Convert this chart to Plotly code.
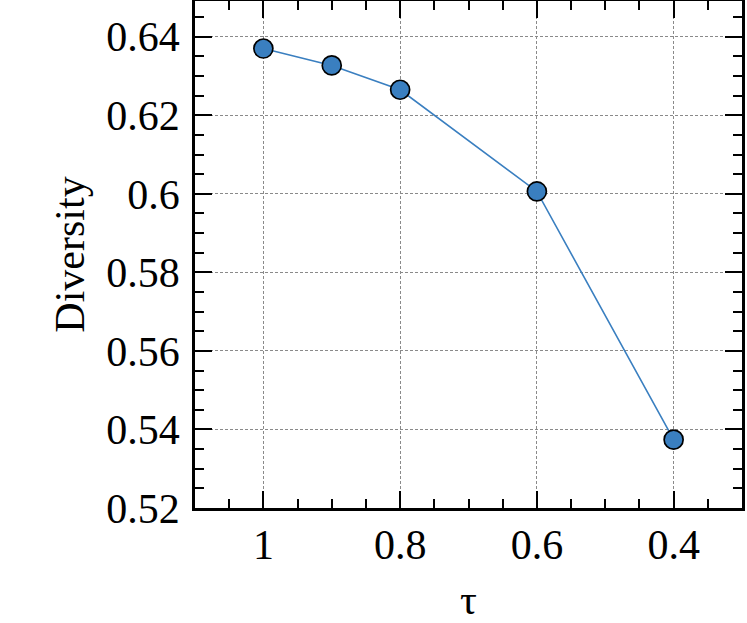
import plotly.graph_objects as go

# Data
tau = [1.0, 0.9, 0.8, 0.6, 0.4]
diversity = [0.6370, 0.6327, 0.6265, 0.6006, 0.5374]

x_tickvals = [1.0, 0.8, 0.6, 0.4]
x_ticktext = ["1", "0.8", "0.6", "0.4"]
y_tickvals = [0.52, 0.54, 0.56, 0.58, 0.60, 0.62, 0.64]
y_ticktext = ["0.52", "0.54", "0.56", "0.58", "0.6", "0.62", "0.64"]

FONT = "Liberation Serif, Times New Roman, serif"
BLUE = "#3a7fc0"

fig = go.Figure()
fig.add_trace(go.Scatter(
    x=tau, y=diversity, mode="lines+markers",
    line=dict(color=BLUE, width=1.6),
    marker=dict(size=19, color=BLUE, line=dict(color="black", width=1.7)),
    showlegend=False,
))

axis_common = dict(
    showline=True, linecolor="black", linewidth=2.5, mirror="allticks",
    ticks="inside", ticklen=17, tickwidth=2, tickcolor="black",
    showgrid=True, gridcolor="#8a8a8a", gridwidth=1, griddash="3px,2px",
    zeroline=False, automargin=False,
    tickfont=dict(family=FONT, size=42, color="black"),
)

fig.update_xaxes(
    range=[1.1, 0.3], tickmode="array", tickvals=x_tickvals, ticktext=x_ticktext,
    minor=dict(dtick=0.05, ticks="inside", ticklen=9, tickwidth=1.8, tickcolor="black", showgrid=False),
    title=dict(text="τ", font=dict(family=FONT, size=42, color="black"), standoff=28),
    ticklabelstandoff=-2,
    **axis_common,
)
fig.update_yaxes(
    range=[0.52, 0.6491], tickmode="array", tickvals=y_tickvals, ticktext=y_ticktext,
    minor=dict(dtick=0.005, tick0=0.52, ticks="inside", ticklen=9, tickwidth=1.8, tickcolor="black", showgrid=False),
    title=dict(text="Diversity", font=dict(family=FONT, size=42, color="black"), standoff=9),
    ticklabelstandoff=4,
    **axis_common,
)

fig.update_layout(
    width=747, height=623,
    margin=dict(l=195, r=5, t=1, b=115),
    paper_bgcolor="white", plot_bgcolor="white",
    font=dict(family=FONT, color="black"),
)

fig.write_html(
    "out.html",
    config={"displayModeBar": False},
    post_script="document.body.style.margin='0';document.body.style.overflow='hidden';",
)
